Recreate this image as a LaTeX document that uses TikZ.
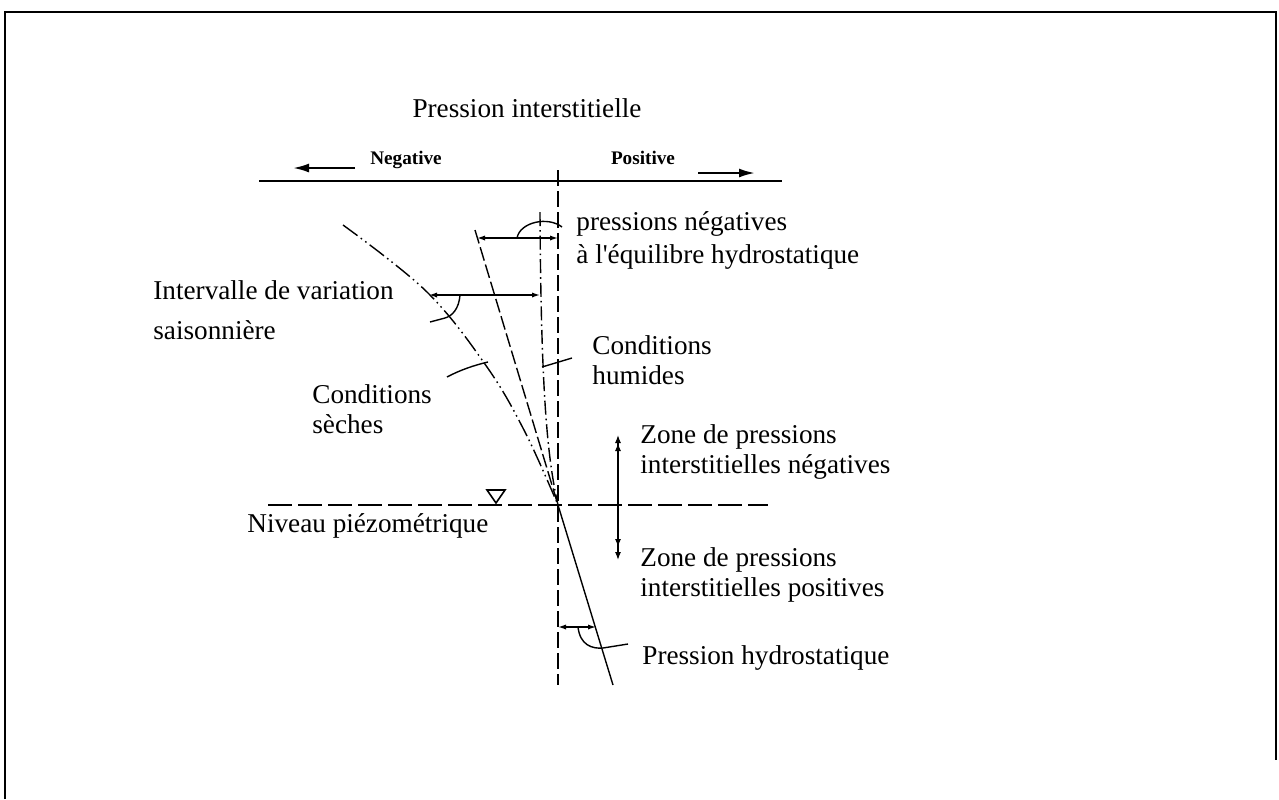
\documentclass[tikz,border=0pt]{standalone}
\usepackage{fontspec}
\setmainfont{Liberation Serif}
\usetikzlibrary{arrows.meta}

\tikzset{
  lbl/.style={font=\fontsize{13.6pt}{15pt}\selectfont, inner sep=0pt, anchor=mid west},
  lbltwo/.style={font=\fontsize{13.6pt}{15pt}\selectfont, inner sep=0pt, anchor=north west, align=left},
  sens/.style={font=\bfseries\fontsize{9.6pt}{11pt}\selectfont, inner sep=0pt, anchor=mid},
  fin/.style={line width=0.7pt},
  cote/.style={line width=0.7pt, {Latex[length=4pt,width=2.6pt]}-{Latex[length=4pt,width=2.6pt]}},
  zone/.style={line width=0.6pt, {Latex[length=4pt,width=3pt,sep=2.5pt]Latex[length=4pt,width=3pt]}-{Latex[length=4pt,width=3pt,sep=2.5pt]Latex[length=4pt,width=3pt]}},
  grosse/.style={line width=1.1pt, -{Latex[length=8pt,width=4.5pt]}},
}

\begin{document}
\begin{tikzpicture}[x=0.5pt, y=-0.5pt]
    \useasboundingbox (0,0) rectangle (1279,799);
    % cadre
    \draw[line width=0.8pt] (5,799) -- (5,12) -- (1276,12) -- (1276,760);

    % points
    \coordinate (W) at (558,505);
    \coordinate (H1) at (475,230);
    \coordinate (H2) at (613,685);
    \coordinate (V1) at (558,170);
    \coordinate (V2) at (558,685);
    \coordinate (U1) at (540,212);
    \coordinate (NL) at (268,505);
    \coordinate (NR) at (768,505);

    % axe des pressions
    \node[lbl, anchor=mid] (titre) at (527,113) {Pression interstitielle};
    \node[sens] (neg) at (406,160) {Negative};
    \node[sens] (pos) at (643,160) {Positive};
    \coordinate (axL) at (259,181);
    \coordinate (axR) at (782,181);
    \draw[line width=1.4pt] (axL) -- (axR);
    \coordinate (gA) at (355,168);
    \coordinate (gB) at (293,168);
    \coordinate (dA) at (698,173);
    \coordinate (dB) at (755,173);
    \draw[grosse] (gA) -- (gB);
    \draw[grosse] (dA) -- (dB);

    % verticale, droite hydrostatique, courbes
    \draw[fin, dash pattern=on 8pt off 2.5pt] (V1) -- (V2);
    \draw[fin, dash pattern=on 7pt off 2pt] (H1) -- (W);
    \draw[fin] (W) -- (H2);
    \draw[fin, dash pattern=on 7pt off 2pt on 0.8pt off 2pt] (U1) .. controls (541,400) and (548,460) .. (W);
    \draw[fin, dash pattern=on 9pt off 2pt on 0.8pt off 2pt on 0.8pt off 2pt]
        plot[smooth, tension=0.6] coordinates {(343,225) (427,292) (487,367) (525,432) (558,505)};

    % niveau piezometrique
    \draw[line width=1pt, dash pattern=on 12pt off 3pt] (NL) -- (NR);
    \draw[line width=0.8pt] (487,490) -- (505,490) -- (496,503) -- cycle;
    \node[lbl] (niveau) at (247,528) {Niveau piézométrique};

    % pressions negatives a l'equilibre
    \coordinate (e1) at (477,238);
    \coordinate (e2) at (558,238);
    \draw[cote] (e1) -- (e2);
    \draw[fin] (517,238) .. controls (520,222) and (548,216) .. (562,227);
    \node[lbltwo, font=\fontsize{13.6pt}{16.5pt}\selectfont] (equil) at (576,211.5)
        {pressions négatives\\à l\textquotesingle équilibre hydrostatique};

    % intervalle de variation saisonniere
    \coordinate (i1) at (429,295);
    \coordinate (i2) at (540,295);
    \draw[cote] (i1) -- (i2);
    \draw[fin] (460,295) .. controls (459,309) and (452,316) .. (445,318) -- (430,322);
    \node[lbltwo, font=\fontsize{13.6pt}{20pt}\selectfont] (interv) at (153,280.5)
        {Intervalle de variation\\saisonnière};

    % conditions
    \draw[fin] (447,377) .. controls (460,370) and (475,365) .. (488,362);
    \node[lbltwo] (seches) at (312,384.5) {Conditions\\sèches};
    \draw[fin] (542,367) -- (572,358);
    \node[lbltwo] (humides) at (592,335.5) {Conditions\\humides};

    % zones
    \coordinate (z1) at (618,430);
    \coordinate (z2) at (618,560);
    \draw[zone] (z1) -- (z2);
    \node[lbltwo] (zneg) at (640,424.5) {Zone de pressions\\interstitielles négatives};
    \node[lbltwo] (zpos) at (640,547.5) {Zone de pressions\\interstitielles positives};

    % pression hydrostatique
    \coordinate (p1) at (558,627);
    \coordinate (p2) at (596,627);
    \draw[cote] (p1) -- (p2);
    \draw[fin] (578,627) .. controls (580,645) and (592,649) .. (603,648) -- (628,644);
    \node[lbl] (hydro) at (642,660) {Pression hydrostatique};
\end{tikzpicture}
\end{document}
